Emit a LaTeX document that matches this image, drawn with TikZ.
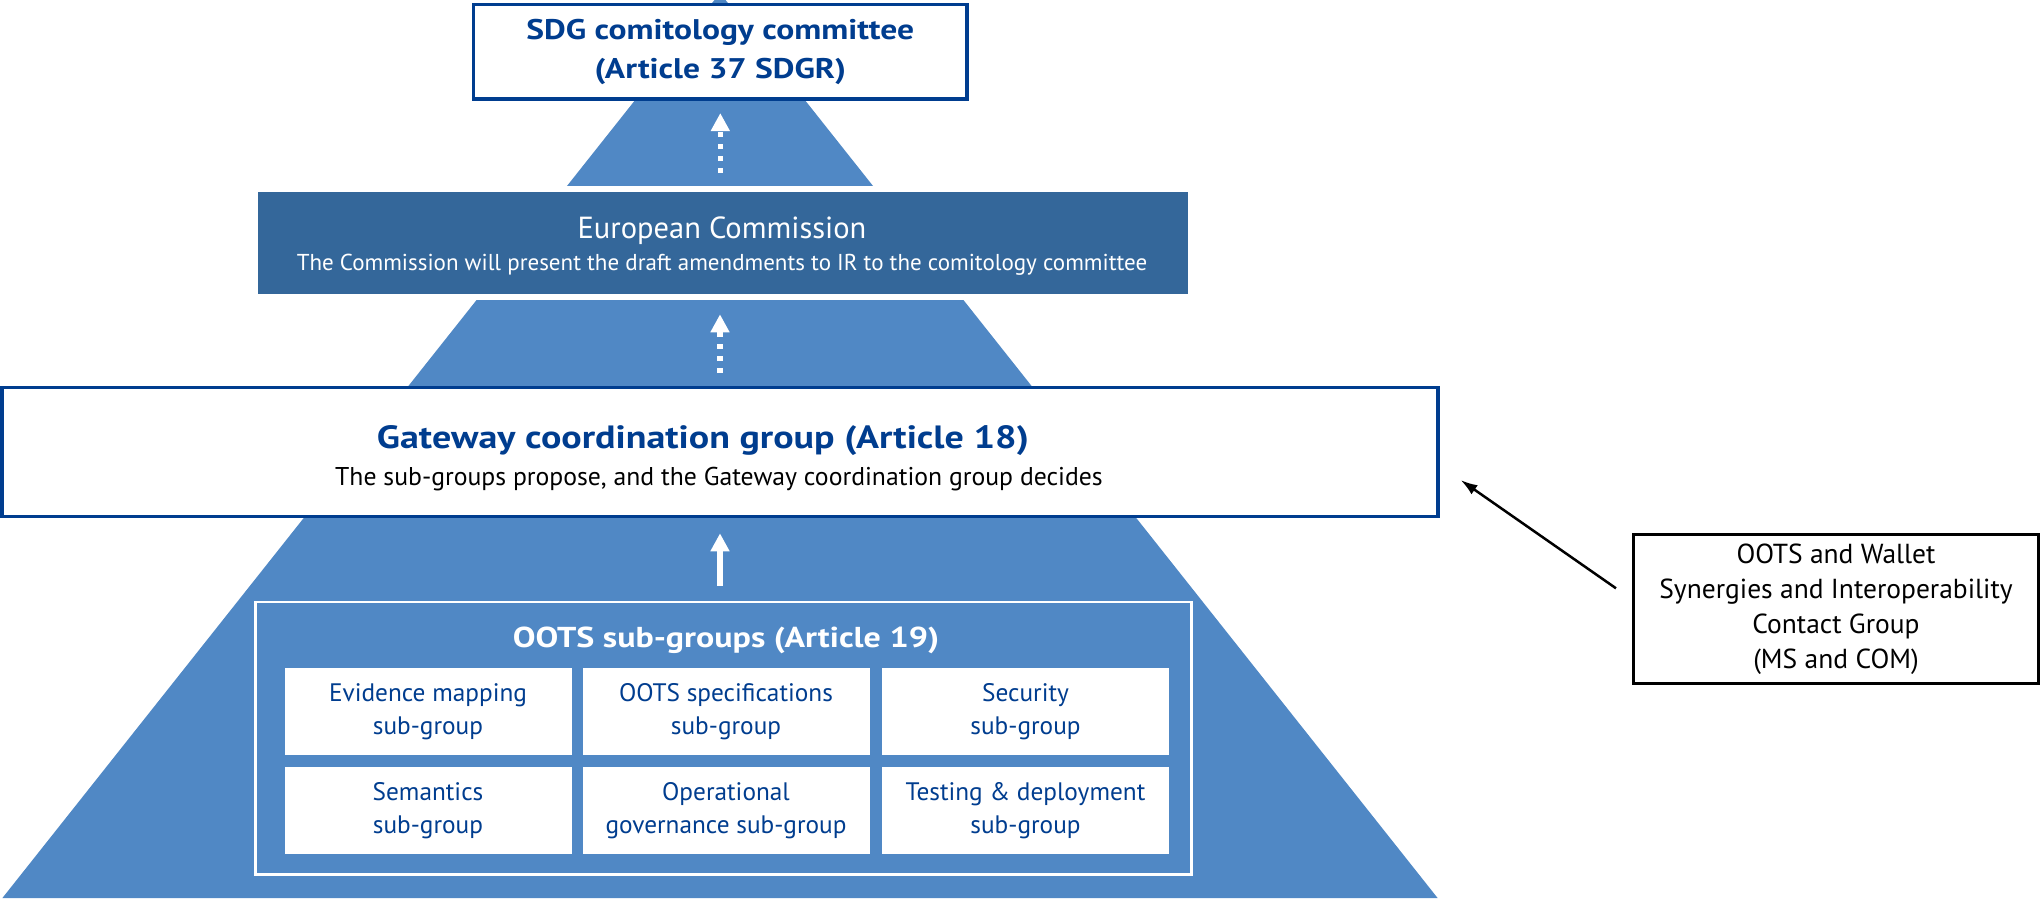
\documentclass[tikz,border=0pt]{standalone}
\usepackage{fontspec}
\setmainfont{PT Sans}
\newfontfamily\widebold[FakeStretch=1.18]{PT Sans}
\usetikzlibrary{arrows.meta}
\definecolor{pyrblue}{RGB}{80,136,197}
\definecolor{ecblue}{RGB}{52,103,154}
\definecolor{eunavy}{RGB}{0,61,143}

\begin{document}
\begin{tikzpicture}[x=1pt,y=-1pt,every node/.style={outer sep=0pt,inner sep=0pt},
	navybox/.style={draw=eunavy,line width=3.3pt,fill=white,align=center},
	subbox/.style={fill=white,text=eunavy,minimum width=287pt,minimum height=87pt,align=center,font=\fontsize{25.3}{33}\selectfont,execute at begin node=\rule{0pt}{34pt}},
	uparrow/.style={white,line width=5.5pt,-{Triangle[length=18pt,width=18pt]}},
	dotarrow/.style={uparrow,dash pattern=on 5.5pt off 6.5pt}]
	\useasboundingbox (0,0) rectangle (2042,898);
	\fill[pyrblue] (720,-7) -- (2.4,898) -- (1437.6,898) -- cycle;
	\node[navybox,minimum width=493.4pt,minimum height=94.7pt,text=eunavy,font={\fontsize{28.4}{39}\widebold\bfseries}] (sdg) at (720.3,51.7) {SDG comitology committee\\(Article 37 SDGR)};
	% European Commission
	\node[minimum width=937pt,minimum height=108pt,fill=ecblue,draw=white,line width=6.5pt] (ec) at (723,243) {};
	\node[anchor=base,text=white,font=\fontsize{30.5}{36}\selectfont] (ectitle) at (722,238.3) {European Commission};
	\node[anchor=base,text=white,font=\fontsize{23}{28}\selectfont] (ecnote) at (722,270) {The Commission will present the draft amendments to IR to the comitology committee};
	% Gateway coordination group
	\node[navybox,line width=3.4pt,minimum width=1436pt,minimum height=129pt] (gateway) at (720,452.2) {};
	\node[anchor=base,text=eunavy,font={\fontsize{32.2}{40}\widebold\bfseries}] (gwtitle) at (703,448.3) {Gateway coordination group (Article 18)};
	\node[anchor=base,font=\fontsize{25.7}{30}\selectfont] (gwnote) at (719,485) {The sub-groups propose, and the Gateway coordination group decides};
	% OOTS sub-groups
	\node[draw=white,line width=2.5pt,minimum width=936pt,minimum height=272.7pt] (oots) at (723.3,738.3) {};
	\node[anchor=base,text=white,font={\fontsize{28.8}{32}\widebold\bfseries}] (ootstitle) at (726,647.7) {OOTS sub-groups (Article 19)};
	\node[subbox] (evidence) at (428,711.5) {Evidence mapping\\sub-group};
	\node[subbox] (specs) at (726,711.5) {OOTS specifications\\sub-group};
	\node[subbox] (security) at (1025.5,711.5) {Security\\sub-group};
	\node[subbox] (semantics) at (428,810.3) {Semantics\\sub-group};
	\node[subbox] (operational) at (726,810.3) {Operational\\governance sub-group};
	\node[subbox] (testing) at (1025.5,810.3) {Testing \& deployment\\sub-group};
	\node[draw=black,line width=3.3pt,fill=white,minimum width=404.6pt,minimum height=149pt,align=center,font=\fontsize{27.5}{35}\selectfont,execute at begin node=\rule{0pt}{26pt}] (contact) at (1836,608.8) {OOTS and Wallet\\Synergies and Interoperability\\Contact Group\\(MS and COM)};
	\draw[dotarrow,shorten <=16pt,shorten >=14pt] (sdg.south |- ec.north) -- (sdg.south);
	\draw[dotarrow,shorten <=14.7pt,shorten >=17.3pt] (gateway.north) -- (gateway.north |- ec.south);
	\draw[uparrow,shorten <=16pt,shorten >=16.6pt] (gateway.south |- oots.north) -- (gateway.south);
	\draw[line width=2.5pt,-{Latex[length=17pt,width=11pt]}] ([xshift=-17.7pt,yshift=20.5pt]contact.west) -- ([xshift=22.6pt,yshift=-27.8pt]gateway.east);
\end{tikzpicture}
\end{document}
